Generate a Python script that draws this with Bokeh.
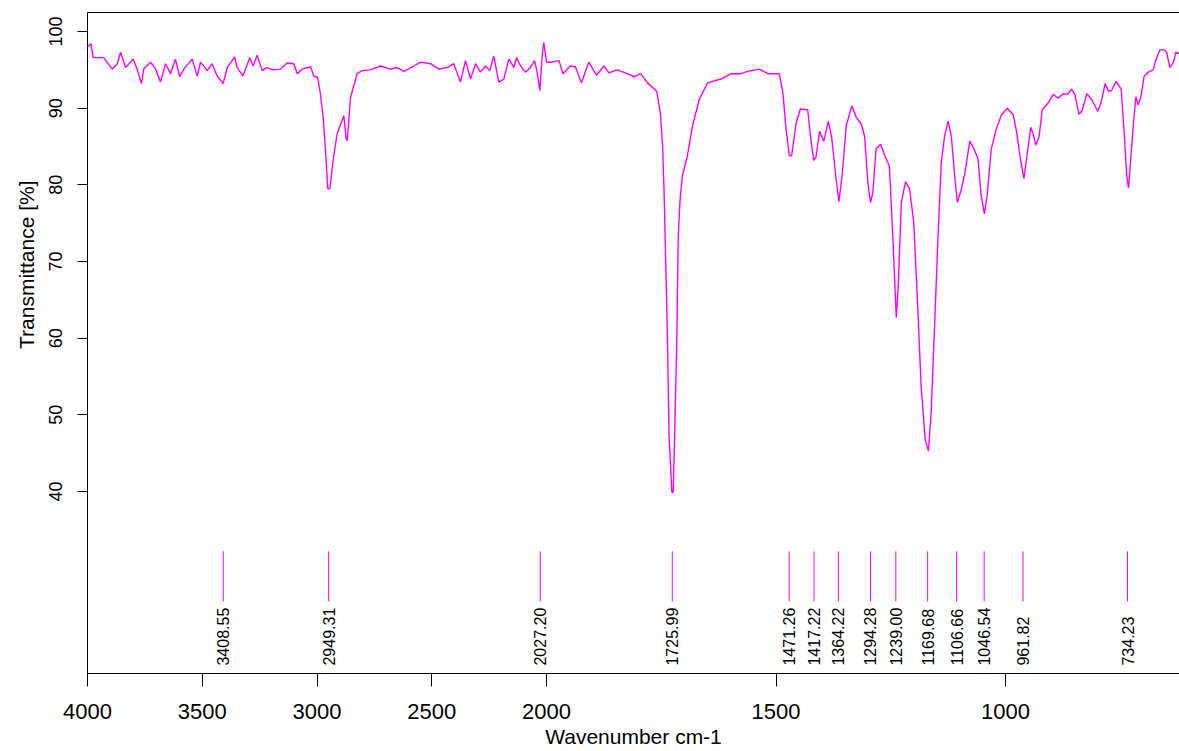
import numpy as np
from bokeh.plotting import figure
from bokeh.models import Range1d, FixedTicker, LinearAxis, Title
from bokeh.embed import file_html
from bokeh.resources import INLINE
from bokeh.core.properties import value

# ---- data ----
wavenumber = [
    4000, 3985, 3975, 3930, 3892, 3870, 3856, 3834, 3801, 3784, 3765, 3755, 3725, 3703,
    3682, 3660, 3638, 3617, 3598, 3580, 3544, 3522, 3507, 3478, 3457, 3435, 3409, 3391,
    3359, 3348, 3323, 3293, 3278, 3261, 3239, 3219, 3190, 3159, 3130, 3101, 3086, 3064,
    3028, 3014, 2997, 2985, 2973, 2963, 2953, 2944, 2930, 2912, 2883, 2873, 2868, 2854,
    2825, 2803, 2767, 2723, 2680, 2651, 2622, 2578, 2549, 2505, 2469, 2433, 2404, 2375,
    2353, 2331, 2309, 2288, 2266, 2247, 2230, 2208, 2186, 2164, 2142, 2131, 2113, 2092,
    2070, 2052, 2041, 2029, 2019, 2012, 2000, 1988, 1973, 1964, 1948, 1937, 1924, 1908,
    1891, 1875, 1864, 1846, 1824, 1809, 1795, 1780, 1760, 1752, 1747, 1744, 1740, 1736,
    1733, 1727, 1724, 1720, 1716, 1713, 1709, 1704, 1693, 1682, 1667, 1649, 1620, 1598,
    1576, 1562, 1536, 1518, 1493, 1485, 1478, 1471, 1466, 1456, 1447, 1431, 1424, 1418,
    1413, 1405, 1396, 1386, 1379, 1369, 1363, 1356, 1347, 1335, 1325, 1314, 1307, 1300,
    1294, 1289, 1282, 1272, 1263, 1253, 1245, 1238, 1234, 1227, 1218, 1209, 1200, 1191,
    1184, 1175, 1168, 1162, 1154, 1147, 1140, 1133, 1125, 1118, 1112, 1105, 1096, 1088,
    1078, 1069, 1060, 1053, 1046, 1040, 1031, 1020, 1009, 996, 983, 976, 969, 960,
    954, 945, 940, 934, 927, 920, 907, 896, 886, 874, 865, 856, 849, 840,
    833, 823, 812, 799, 792, 783, 776, 769, 759, 748, 741, 736, 732, 727,
    721, 716, 711, 705, 698, 689, 678, 673, 664, 654, 649, 642, 634, 629, 620,
]
transmittance = [
    98.0, 98.4, 96.6, 96.6, 95.1, 95.8, 97.3, 95.3, 96.4, 95.1, 93.2, 95.1, 96.0, 95.1,
    93.4, 95.8, 94.5, 96.4, 94.1, 95.1, 96.4, 94.2, 96.0, 94.9, 95.8, 94.2, 93.2, 95.3,
    96.7, 95.3, 94.2, 96.6, 95.5, 96.9, 94.9, 95.3, 95.0, 95.1, 95.9, 95.8, 94.5, 95.1,
    95.4, 94.2, 94.0, 91.8, 88.8, 84.5, 79.5, 79.5, 83.2, 86.7, 89.0, 86.0, 85.8, 91.4,
    94.5, 94.9, 95.0, 95.5, 95.1, 95.3, 94.8, 95.5, 96.0, 95.8, 95.1, 95.3, 95.8, 93.4,
    96.2, 93.8, 95.8, 94.7, 95.5, 94.9, 96.8, 93.4, 93.8, 96.4, 95.3, 96.6, 95.5, 94.7,
    95.3, 96.2, 94.7, 92.3, 96.8, 98.6, 96.0, 96.0, 96.2, 94.5, 95.5, 95.4, 93.3, 96.0,
    94.3, 95.5, 94.6, 95.0, 94.5, 94.1, 94.5, 93.3, 92.2, 89.4, 85.0, 79.4, 69.0, 58.2,
    47.3, 39.9, 39.9, 49.5, 60.3, 73.4, 78.1, 81.2, 83.8, 87.7, 91.2, 93.3, 93.8, 94.5,
    94.5, 94.8, 95.1, 94.5, 94.5, 92.0, 87.2, 83.8, 83.8, 88.1, 89.9, 89.8, 85.9, 83.2,
    83.6, 87.0, 85.7, 88.3, 86.3, 80.7, 77.8, 81.2, 87.7, 90.3, 88.8, 87.9, 86.3, 80.3,
    77.7, 79.0, 84.7, 85.3, 83.8, 82.5, 72.5, 62.7, 66.4, 77.7, 80.4, 79.5, 75.1, 63.8,
    53.8, 46.8, 45.3, 50.3, 62.5, 73.4, 82.9, 86.3, 88.3, 86.3, 82.0, 77.7, 79.5, 81.7,
    85.7, 84.7, 83.4, 78.6, 76.2, 78.6, 84.7, 87.3, 89.1, 90.0, 89.1, 86.9, 83.9, 80.8,
    83.5, 87.5, 86.7, 85.2, 86.3, 89.8, 90.7, 91.8, 91.3, 91.9, 91.8, 92.5, 91.8, 89.2,
    89.7, 91.9, 91.1, 89.6, 90.7, 93.2, 92.2, 92.3, 93.5, 92.5, 86.3, 81.2, 79.6, 83.5,
    88.3, 91.5, 90.4, 91.5, 94.2, 94.7, 95.0, 96.2, 97.6, 97.6, 97.3, 95.3, 96.0, 97.3, 97.1,
]
peak_positions = [3408.55, 2949.31, 2027.20, 1725.99, 1471.26, 1417.22, 1364.22,
                  1294.28, 1239.00, 1169.68, 1106.66, 1046.54, 961.82, 734.23]
peak_labels = ["3408.55", "2949.31", "2027.20", "1725.99", "1471.26", "1417.22", "1364.22",
               "1294.28", "1239.00", "1169.68", "1106.66", "1046.54", "961.82", "734.23"]
x_tick_values = [4000, 3500, 3000, 2500, 2000, 1500, 1000]
x_tick_labels = ["4000", "3500", "3000", "2500", "2000", "1500", "1000"]
y_tick_values = [40, 50, 60, 70, 80, 90, 100]

# ---- layout / style constants ----
X_END_WAVENUMBER = 621
Y_MIN, Y_MAX = 16.26, 102.48
MARK_Y0, MARK_Y1 = 25.66, 32.2
MARK_LABEL_Y = 17.3
MAGENTA = "#FF00FF"
FONT = "Liberation Sans"


def to_axis(w):
    """IR axis scale: 4000-2000 compressed, below 2000 expanded by a factor 2."""
    w = np.asarray(w, dtype=float)
    return np.where(w >= 2000, 4000.0 - w, 2000.0 + 2.0 * (2000.0 - w))


p = figure(
    width=1179, height=751,
    x_range=Range1d(0, float(to_axis(X_END_WAVENUMBER))),
    y_range=Range1d(Y_MIN, Y_MAX),
    output_backend="svg", toolbar_location=None,
    min_border_left=87, min_border_right=0, min_border_top=12, min_border_bottom=78,
)
p.grid.visible = False
p.outline_line_color = None
p.background_fill_color = "white"
p.border_fill_color = "white"

# x axis with custom IR ticks
xa = p.xaxis[0]
tick_pos = [float(t) for t in to_axis(x_tick_values)]
xa.ticker = FixedTicker(ticks=tick_pos)
xa.major_label_overrides = {tp: lab for tp, lab in zip(tick_pos, x_tick_labels)}
xa.major_tick_in = 0
xa.major_tick_out = 13
xa.minor_tick_line_color = None
xa.axis_line_color = "black"
xa.major_tick_line_color = "black"
xa.major_label_text_font = FONT
xa.major_label_text_font_size = "22px"
xa.major_label_text_color = "black"
xa.major_label_standoff = 17
xa.axis_label = "Wavenumber cm-1"
xa.axis_label_text_font = FONT
xa.axis_label_text_font_size = "21px"
xa.axis_label_text_font_style = "normal"
xa.axis_label_text_color = "black"
xa.axis_label_standoff = 3

ya = p.yaxis[0]
ya.ticker = FixedTicker(ticks=y_tick_values)
ya.major_tick_in = 0
ya.major_tick_out = 10
ya.minor_tick_line_color = None
ya.axis_line_color = "black"
ya.major_tick_line_color = "black"
ya.major_label_orientation = "vertical"
ya.major_label_text_font = FONT
ya.major_label_text_font_size = "18px"
ya.major_label_text_color = "black"
ya.major_label_standoff = 15

top = LinearAxis(ticker=FixedTicker(ticks=[]), major_tick_line_color=None,
                 minor_tick_line_color=None, axis_line_color="black")
p.add_layout(top, "above")

ytitle = Title(text="Transmittance [%]", align="right", offset=168, standoff=17,
               text_font=FONT, text_font_size="21px", text_font_style="normal",
               text_color="black")
p.add_layout(ytitle, "left")

# spectrum
p.line(to_axis(wavenumber), transmittance, line_color=MAGENTA, line_width=1.4)

# peak markers
px = to_axis(peak_positions)
p.segment(x0=px, y0=[MARK_Y0] * len(px), x1=px, y1=[MARK_Y1] * len(px),
          line_color=MAGENTA, line_width=1)
p.text(x=px, y=[MARK_LABEL_Y] * len(px), text=peak_labels, angle=np.pi / 2,
       text_align="left", text_baseline="middle", text_font=value(FONT),
       text_font_size="16px", text_color="black")

open("out.html", "w").write(file_html(p, INLINE))
